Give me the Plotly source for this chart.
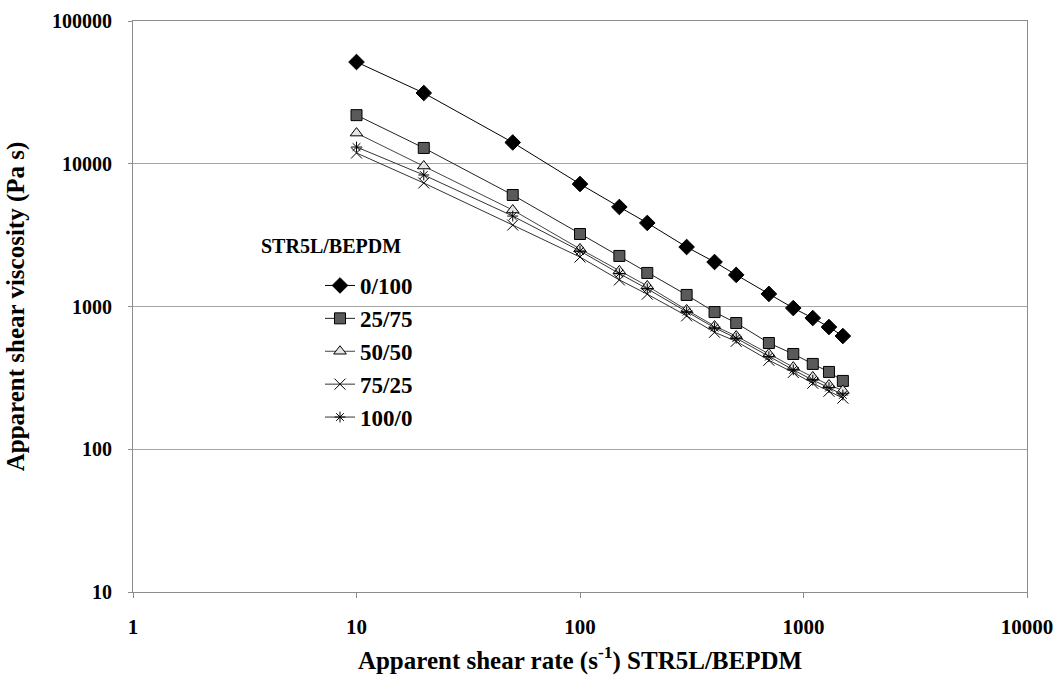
import plotly.graph_objects as go

shear_rate = [10, 20, 50, 100, 150, 200, 300, 400, 500, 700, 900, 1100, 1300, 1500]
visc_0_100 = [51600, 31300, 14100, 7210, 4980, 3850, 2610, 2050, 1665, 1225, 975, 830, 718, 621]
visc_25_75 = [21900, 12900, 6040, 3220, 2260, 1718, 1205, 914, 766, 555, 465, 396, 348, 301]
visc_50_50 = [16400, 9640, 4740, 2530, 1775, 1393, 946, 730, 621, 465, 376, 321, 282, 258]
visc_75_25 = [11900, 7330, 3720, 2220, 1535, 1220, 860, 660, 570, 420, 345, 290, 255, 228]
visc_100_0 = [13100, 8340, 4300, 2450, 1700, 1330, 920, 710, 600, 445, 360, 305, 270, 240]

series_names = ["0/100", "25/75", "50/50", "75/25", "100/0"]
x_ticks = [1, 10, 100, 1000, 10000]
y_ticks = [10, 100, 1000, 10000, 100000]

FONT = "Liberation Serif, Times New Roman, serif"

styles = [
    dict(symbol="diamond", size=12, color="black", line=dict(color="black", width=1)),
    dict(symbol="square", size=11, color="#5a5a5a", line=dict(color="black", width=1)),
    dict(symbol="triangle-up", size=11, color="#e6e6e6", line=dict(color="black", width=1)),
    dict(symbol="x-thin-open", size=11, color="black", line=dict(color="black", width=1)),
    dict(symbol="asterisk-open", size=9, color="black", line=dict(color="black", width=1)),
]
line_colors = ["black", "#222222", "#444444", "#333333", "#333333"]

fig = go.Figure()
for i, (name, ys) in enumerate(zip(series_names,
                                   [visc_0_100, visc_25_75, visc_50_50, visc_75_25, visc_100_0])):
    fig.add_trace(go.Scatter(
        x=shear_rate, y=ys, name=name, mode="lines+markers",
        legendgroup=name,
        line=dict(color=line_colors[i], width=1),
        marker=styles[i],
    ))

fig.update_layout(
    width=1056, height=675,
    margin=dict(l=133, r=29, t=21, b=83),
    paper_bgcolor="white", plot_bgcolor="white",
    font=dict(family=FONT, color="black"),
    showlegend=True,
    legend=dict(
        x=(320 - 133) / 894, y=(592 - 264) / 571, xanchor="left", yanchor="top",
        font=dict(family=FONT, size=23, weight="bold"),
        bgcolor="rgba(0,0,0,0)", traceorder="grouped", tracegroupgap=0,
        itemwidth=30,
    ),
    annotations=[dict(
        text="STR5L/BEPDM", xref="paper", yref="paper",
        x=(259 - 133) / 894, y=(592 - 246) / 571, xanchor="left", yanchor="middle",
        showarrow=False, font=dict(family=FONT, size=20, weight="bold"),
    )],
)

fig.update_xaxes(
    type="log", range=[0, 4], tickvals=x_ticks, ticktext=[str(v) for v in x_ticks],
    showgrid=False, showline=True, linecolor="#8c8c8c", linewidth=1, mirror=True,
    ticks="outside", ticklen=5, tickcolor="#8c8c8c",
    tickfont=dict(family=FONT, size=21, weight="bold"),
    ticklabelstandoff=11,
    automargin=False,
    title=dict(text="Apparent shear rate (s<sup>-1</sup>) STR5L/BEPDM",
               font=dict(family=FONT, size=25, weight="bold"), standoff=16),
    zeroline=False,
)
fig.update_yaxes(
    type="log", range=[1, 5], tickvals=y_ticks, ticktext=[str(v) for v in y_ticks],
    showgrid=True, gridcolor="#a6a6a6", gridwidth=1,
    showline=True, linecolor="#8c8c8c", linewidth=1, mirror=True,
    ticks="outside", ticklen=4, tickcolor="#8c8c8c",
    tickfont=dict(family=FONT, size=20, weight="bold"),
    ticklabelstandoff=12,
    automargin=False,
    title=dict(text="Apparent shear viscosity (Pa s)",
               font=dict(family=FONT, size=25, weight="bold"), standoff=20),
    zeroline=False,
)

fig.write_html("out.html")
